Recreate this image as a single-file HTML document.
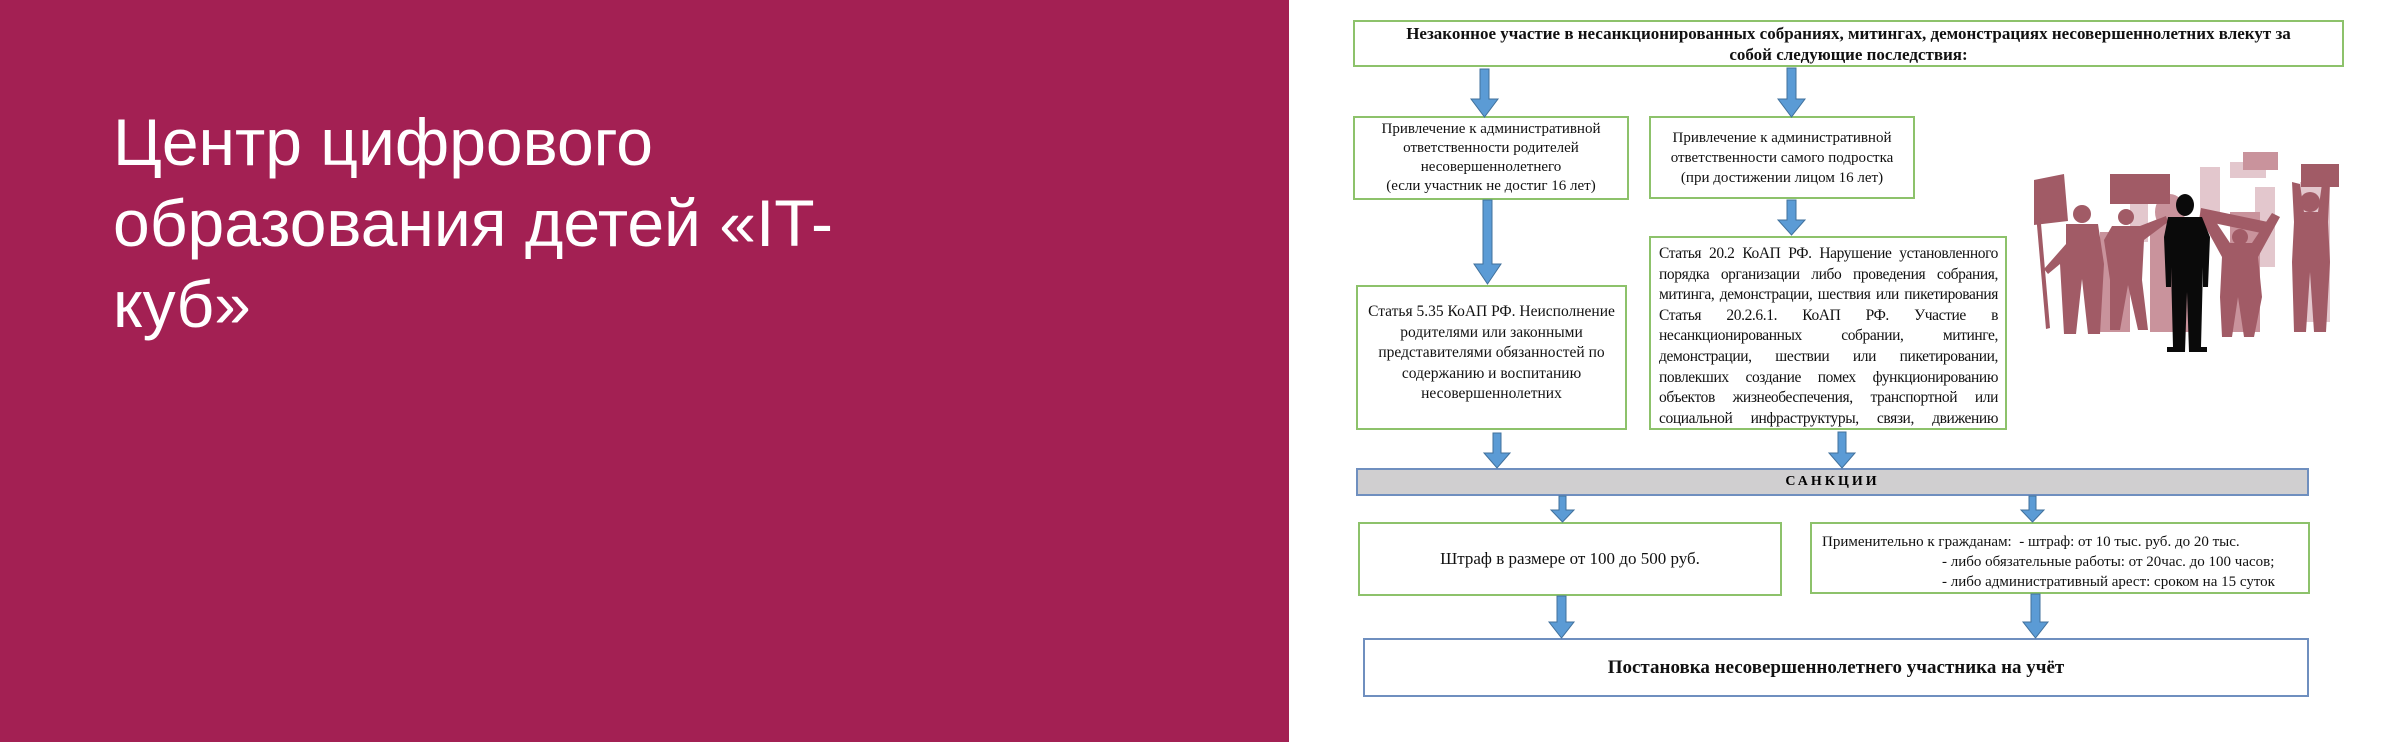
<!DOCTYPE html>
<html><head><meta charset="utf-8"><style>
*{margin:0;padding:0;box-sizing:border-box}
body{width:2400px;height:742px;position:relative;background:#fff;overflow:hidden;font-family:"Liberation Serif","Noto Serif CJK SC",serif}
#left{position:absolute;left:0;top:0;width:1289px;height:742px;background:#A32053}
#title{position:absolute;left:113px;top:102px;color:#fff;font-family:"Liberation Sans",sans-serif;font-size:66px;line-height:81px;font-weight:400}
.b{position:absolute;border:2px solid #8DC26B;background:#fff;color:#111;display:flex;align-items:center;justify-content:center;text-align:center;font-size:16px;line-height:22px;overflow:hidden}
</style></head><body>
<div id="left"><div id="title">Центр цифрового<br>образования детей «IT-<br>куб»</div></div>

<div class="b" style="left:1353px;top:20px;width:991px;height:47px;font-weight:bold;font-size:17px;line-height:21px"><span>Незаконное участие в несанкционированных собраниях, митингах, демонстрациях несовершеннолетних влекут за<br>собой следующие последствия:</span></div>

<div class="b" style="left:1353px;top:116px;width:276px;height:84px;font-size:15px;line-height:19px"><span>Привлечение к административной<br>ответственности родителей<br>несовершеннолетнего<br>(если участник не достиг 16 лет)</span></div>
<div class="b" style="left:1649px;top:116px;width:266px;height:83px;font-size:15px;line-height:20px"><span>Привлечение к административной<br>ответственности самого подростка<br>(при достижении лицом 16 лет)</span></div>

<div class="b" style="left:1356px;top:285px;width:271px;height:145px;font-size:15.5px;line-height:20.5px;padding-bottom:8px"><span>Статья 5.35 КоАП РФ. Неисполнение<br>родителями или законными<br>представителями обязанностей по<br>содержанию и воспитанию<br>несовершеннолетних</span></div>

<div class="b" style="left:1649px;top:236px;width:358px;height:194px;font-size:15.5px;line-height:20.6px;letter-spacing:-0.4px;display:block;padding:6px 7px 0 8px;text-align:justify;text-align-last:justify">Статья 20.2 КоАП РФ. Нарушение установленного порядка организации либо проведения собрания, митинга, демонстрации, шествия или пикетирования Статья 20.2.6.1. КоАП РФ. Участие в несанкционированных собрании, митинге, демонстрации, шествии или пикетировании, повлекших создание помех функционированию объектов жизнеобеспечения, транспортной или социальной инфраструктуры, связи, движению пешеходов и т.д.</div>

<div style="position:absolute;left:1356px;top:468px;width:953px;height:28px;background:#D0CFD0;border:2px solid #6F8FBF;display:flex;align-items:center;justify-content:center;font-weight:bold;font-size:14px;letter-spacing:3px">САНКЦИИ</div>

<div class="b" style="left:1358px;top:522px;width:424px;height:74px;font-size:17px"><span>Штраф в размере от 100 до 500 руб.</span></div>
<div class="b" style="left:1810px;top:522px;width:500px;height:72px;font-size:15px;line-height:20px;display:block;padding:8px 12px 0 10px;text-align:left"><div>Применительно к гражданам:&nbsp; - штраф: от 10 тыс. руб. до 20 тыс.</div><div style="padding-left:120px">- либо обязательные работы: от 20час. до 100 часов;</div><div style="padding-left:120px">- либо административный арест: сроком на 15 суток</div></div>

<div class="b" style="left:1363px;top:638px;width:946px;height:59px;border-color:#6F8FBF;font-weight:bold;font-size:19px"><span>Постановка несовершеннолетнего участника на учёт</span></div>

<svg style="position:absolute;left:0;top:0" width="2400" height="742">
<g fill="#5B9BD5" stroke="#41719C" stroke-width="1">
<path d="M1480 69h9v30h9l-13.5 18l-13.5-18h9z"/>
<path d="M1787 68h9v31h9l-13.5 18l-13.5-18h9z"/>
<path d="M1483 200h9v64h9l-13.5 20l-13.5-20h9z"/>
<path d="M1787 200h9v20h9l-13.5 15l-13.5-15h9z"/>
<path d="M1493 433h8v20h9l-13 15l-13-15h9z"/>
<path d="M1838 432h8v21h9l-13 15l-13-15h9z"/>
<path d="M1559 496h7v14h8l-11.5 12l-11.5-12h8z"/>
<path d="M2029 496h7v14h8l-11.5 12l-11.5-12h8z"/>
<path d="M1557 596h9v26h8l-12.5 16l-12.5-16h8z"/>
<path d="M2031 594h9v28h8l-12.5 16l-12.5-16h8z"/>
</g>
<g transform="translate(0,12)">
<g fill="#E3C7CD"><rect x="2230" y="150" width="36" height="16"/><rect x="2200" y="155" width="20" height="50"/><rect x="2255" y="175" width="20" height="80"/><rect x="2130" y="170" width="18" height="60"/><rect x="2300" y="170" width="30" height="140"/></g>
<g fill="#C9939C"><rect x="2243" y="140" width="35" height="18"/><ellipse cx="2170" cy="200" rx="15" ry="18"/><rect x="2150" y="210" width="40" height="110"/><rect x="2230" y="200" width="30" height="120"/><rect x="2100" y="220" width="30" height="100"/></g>
<g fill="#A15B66">
<path d="M2034 168l30-6 4 47-34 4z"/><path d="M2040 200l-4 2 10 115 4-1z"/>
<path d="M2110 162h60v30h-60z"/><path d="M2301 152h38v23h-38z"/>
<path d="M2201 196l67 14-2 12-67-14z"/>
<circle cx="2082" cy="202" r="9"/><path d="M2066 212h32l6 40 -4 70h-12l-6-55-6 55h-12l-4-70-12 10-4-5 22-25z"/>
<circle cx="2126" cy="205" r="8"/><path d="M2112 214h28l26-10 2 6-24 18-2 40 6 50h-10l-10-45-8 45h-10l0-50-6-40z"/>
<circle cx="2240" cy="225" r="8"/><path d="M2200 205l10-4 20 30h22l20-30 8 4-22 40 4 40-8 40h-10l-6-40-6 40h-10l-2-40 2-40z"/>
<circle cx="2310" cy="190" r="10"/><path d="M2292 170l8 2 4 28h14l4-28 8-2-2 40 2 40-4 70h-12l-4-60-4 60h-12l-2-70 2-40z"/>
</g>
<g fill="#0A0A0A"><ellipse cx="2185" cy="193" rx="9" ry="11"/><path d="M2168 205h34l8 20-2 50-5 0 0-20-2 80h6v5h-18l-2-60-2 60h-18v-5h6l-2-80 0 20-5 0-2-50z"/></g>
</g>
</svg>
</body></html>
